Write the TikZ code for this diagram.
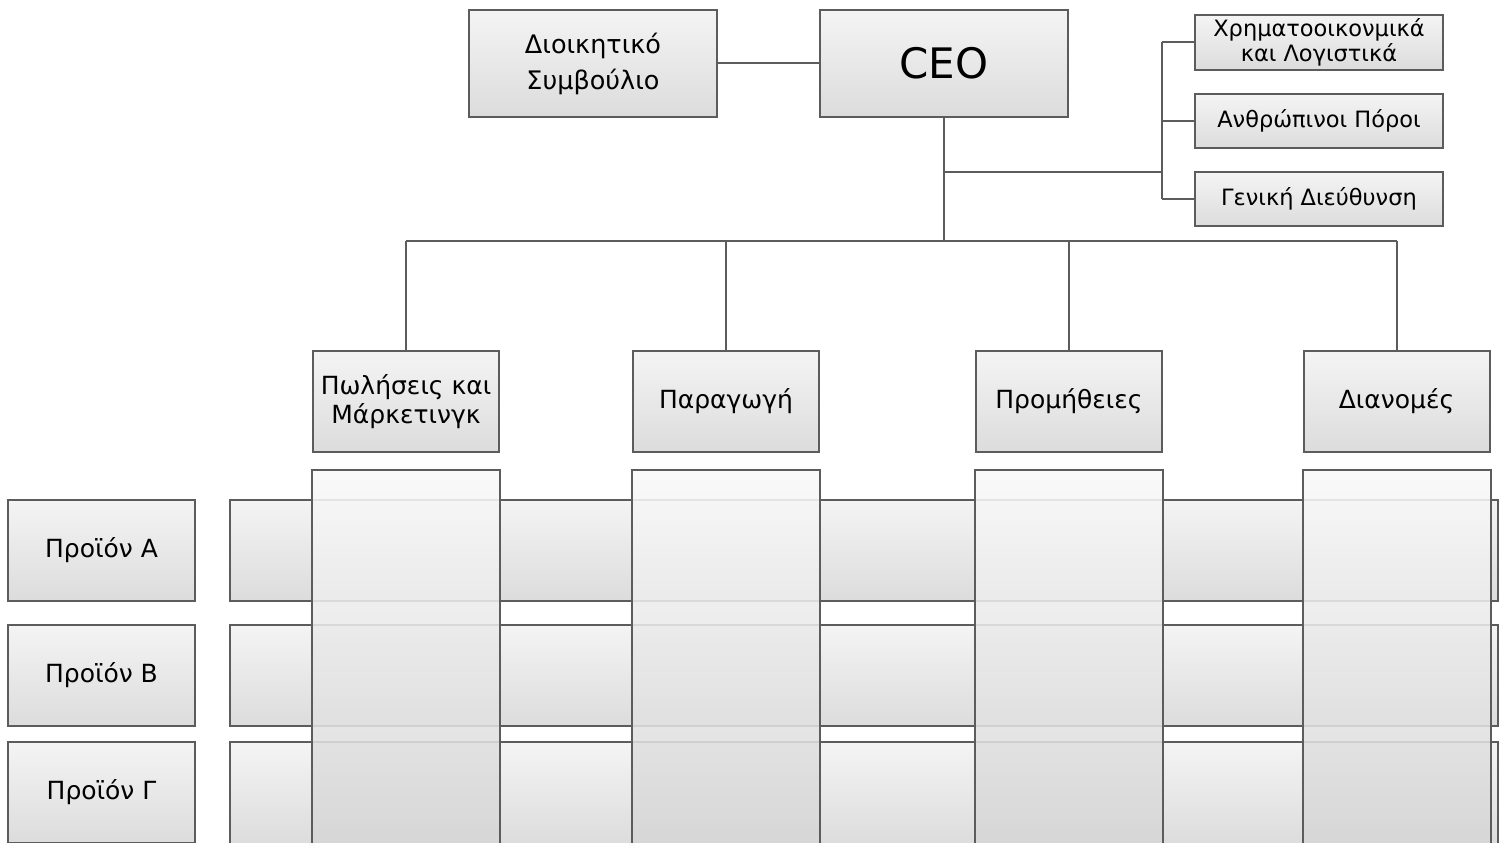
\documentclass[tikz,border=0pt]{standalone}
\usepackage{fontspec}
\setmainfont{DejaVu Sans}
\definecolor{edge}{HTML}{5C5C5C}
\definecolor{topc}{HTML}{F4F4F4}
\definecolor{botc}{HTML}{DCDCDC}
\tikzset{
  box/.style={draw=edge, line width=2pt, top color=topc, bottom color=botc,
    shading angle=0, align=center, inner sep=0pt, font=#1},
  box/.default={\fontsize{25}{29}\selectfont},
  conn/.style={draw=edge, line width=2pt},
  rowbar/.style={draw=edge, line width=2pt, top color=topc, bottom color=botc},
  colbar/.style={draw=edge, line width=2pt, top color=topc!60!white, bottom color=botc!95!black,
    fill opacity=0.88},
}
\begin{document}
\begin{tikzpicture}[x=1pt,y=-1pt]
\useasboundingbox (0,0) rectangle (1507,843);
\clip (0,0) rectangle (1507,843);

% top management
\node[box={\fontsize{25.5}{36}\selectfont}, minimum width=248pt, minimum height=107pt] (board) at (593,63.5) {Διοικητικό\\Συμβούλιο};
\node[box={\fontsize{42}{48}\selectfont}, minimum width=248pt, minimum height=107pt] (ceo) at (944,63.5) {CEO};

% staff functions
\node[box={\fontsize{22.5}{25}\selectfont}, minimum width=248pt, minimum height=55pt] (fin) at (1319,42.5) {Χρηματοοικονμικά\\και Λογιστικά};
\node[box={\fontsize{22.5}{25}\selectfont}, minimum width=248pt, minimum height=54pt] (hr) at (1319,121) {Ανθρώπινοι Πόροι};
\node[box={\fontsize{22.5}{25}\selectfont}, minimum width=248pt, minimum height=54pt] (gen) at (1319,199) {Γενική Διεύθυνση};

% functional departments
\node[box, minimum width=186pt, minimum height=101pt] (sales) at (406,401.5) {Πωλήσεις και\\Μάρκετινγκ};
\node[box, minimum width=186pt, minimum height=101pt] (prod) at (726,401.5) {Παραγωγή};
\node[box, minimum width=186pt, minimum height=101pt] (proc) at (1069,401.5) {Προμήθειες};
\node[box, minimum width=186pt, minimum height=101pt] (dist) at (1396.5,401.5) {Διανομές};

% product rows
\node[box, minimum width=187pt, minimum height=101pt] (pa) at (101.5,550.5) {Προϊόν A};
\node[box, minimum width=187pt, minimum height=101pt] (pb) at (101.5,675.5) {Προϊόν B};
\node[box, minimum width=187pt, minimum height=101pt] (pc) at (101.5,792.5) {Προϊόν Γ};

\path[rowbar] (230,500) rectangle (1498,601);
\path[rowbar] (230,625) rectangle (1498,726);
\path[rowbar] (230,742) rectangle (1498,845);

% department columns over the rows
\foreach \n in {sales,prod,proc,dist}{
  \path[colbar] (\n.south west |- 0,470) rectangle (\n.south east |- 0,900);
}

% connectors
\coordinate (bus) at (944,241);
\coordinate (side) at (1162,172);
\draw[conn] (board.east) -- (ceo.west);
\draw[conn] (ceo.south) -- (ceo.south |- bus);
\draw[conn] (sales.north |- bus) -- (dist.north |- bus);
\foreach \n in {sales,prod,proc,dist}{
  \draw[conn] (\n.north) -- (\n.north |- bus);
}
\draw[conn] (ceo.south |- side) -- (side);
\draw[conn] (side |- fin.west) -- (side |- gen.west);
\foreach \n in {fin,hr,gen}{
  \draw[conn] (side |- \n.west) -- (\n.west);
}
\end{tikzpicture}
\end{document}
